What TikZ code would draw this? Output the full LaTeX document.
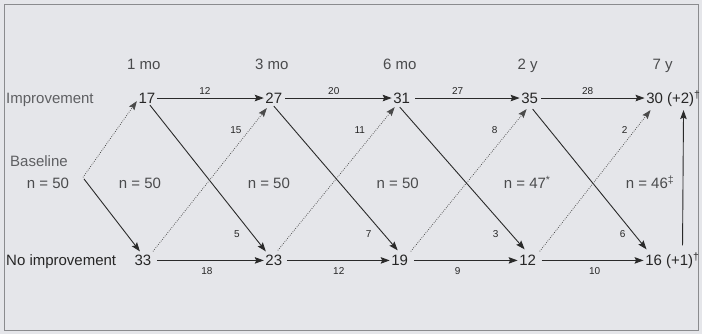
\documentclass[tikz,border=0pt]{standalone}
\usepackage{fontspec}
\setmainfont{Liberation Sans}
\usetikzlibrary{arrows.meta,calc}
\definecolor{bgc}{HTML}{E5E6EA}
\definecolor{framec}{HTML}{8A8B8E}
\definecolor{numc}{HTML}{262626}
\definecolor{lblc}{HTML}{5E5F62}
\definecolor{hdrc}{HTML}{4A4B4D}
\definecolor{linec}{HTML}{2A2A2A}
\definecolor{dotc}{HTML}{4A4A4A}
\begin{document}
\begin{tikzpicture}[x=1pt,y=-1pt,
  every node/.style={font=\fontsize{15}{18}\selectfont, text=numc},
  num/.style={inner sep=1.5pt, text height=10.7pt, text depth=0pt},
  lbl/.style={anchor=base west, inner sep=0pt, text=lblc},
  hdr/.style={anchor=base, inner sep=0pt, text=hdrc},
  nn/.style={anchor=base, inner sep=0pt, text=hdrc},
  elab/.style={anchor=base, inner sep=0pt, font=\fontsize{10}{12}\selectfont, text=numc},
  arr/.style={-{Stealth[length=9pt,width=6.5pt,inset=1.5pt]}, line width=0.9pt, draw=linec},
  dots/.style={-{Stealth[length=9pt,width=6.5pt,inset=1.5pt]}, line width=0.75pt, draw=dotc, dash pattern=on 0.75pt off 1.4pt}
]
\path[fill=bgc] (0,0) rectangle (702,334);
\draw[framec, line width=1pt] (4.5,5) rectangle (699,331);

% headers
\node[hdr] (h1) at (144,70) {1 mo};
\node[hdr] (h2) at (272,70) {3 mo};
\node[hdr] (h3) at (400,70) {6 mo};
\node[hdr] (h4) at (528,70) {2 y};
\node[hdr] (h5) at (663,70) {7 y};

% row labels
\node[lbl] (limp) at (6,103.5) {Improvement};
\node[lbl] (lbase) at (10,166.5) {Baseline};
\node[lbl, text=numc] (lno) at (6,266) {No improvement};

% n labels
\node[nn] (nb) at (48,189) {n = 50};
\node[nn] (nm1) at (140,189) {n = 50};
\node[nn] (nm2) at (269,189) {n = 50};
\node[nn] (nm3) at (398,189) {n = 50};
\node[nn, anchor=base west] (nm4) at (504,189) {n = 47\textsuperscript{*}};
\node[nn, anchor=base west] (nm5) at (626,189) {n = 46\textsuperscript{‡}};

% top row
\node[num] (n17) at (147,98.1) {17};
\node[num] (n27) at (274,98.1) {27};
\node[num] (n31) at (402,98.1) {31};
\node[num] (n35) at (530,98.1) {35};
\node[num, anchor=west] (n30) at (645,98.1) {30 (+2)\textsuperscript{†}};
% bottom row
\node[num] (n33) at (143,260.6) {33};
\node[num] (n23) at (274,260.6) {23};
\node[num] (n19) at (400,260.6) {19};
\node[num] (n12) at (528,260.6) {12};
\node[num, anchor=west] (n16) at (644,260.6) {16 (+1)\textsuperscript{†}};

\coordinate (bv) at (83,177.5);

% horizontal arrows
\draw[arr] (n17.east) -- (n27.west);
\draw[arr, shorten <=1.5pt] (n27.east) -- (n31.west);
\draw[arr, shorten <=3.5pt] (n31.east) -- (n35.west);
\draw[arr, shorten <=1.5pt] (n35.east) -- (n30.west);
\draw[arr, shorten <=4pt] (n33.east) -- (n23.west);
\draw[arr, shorten <=3pt] (n23.east) -- (n19.west);
\draw[arr, shorten <=4pt] (n19.east) -- (n12.west);
\draw[arr, shorten <=4pt] (n12.east) -- (n16.west);

% baseline arrows
\draw[dots] (bv) -- ($(n17.south west)+(0,-4)$);
\draw[arr] ($(bv)+(1,1.5)$) -- ($(n33.north)+(-3,-2)$);

% diagonal solid (down)
\draw[arr] ($(n17.south)+(3,0)$) -- ($(n23.north)+(-8,-2)$);
\draw[arr] ($(n27.south)+(0,1)$) -- ($(n19.north)+(-2,-3)$);
\draw[arr] ($(n31.south)+(-2,2)$) -- ($(n12.north)+(-3,-4)$);
\draw[arr] ($(n35.south)+(3,4)$) -- ($(n16.north west)+(3,-4)$);

% diagonal dotted (up)
\draw[dots] ($(n33.north east)+(0,-2)$) -- ($(n27.south)+(-7,3)$);
\draw[dots] ($(n23.north)+(4,-3)$) -- ($(n31.south)+(-7,2)$);
\draw[dots] ($(n19.north east)+(1,-2)$) -- ($(n35.south)+(-3,4)$);
\draw[dots] ($(n12.north east)+(2,-2)$) -- ($(n30.south west)+(6,5)$);

% vertical
\draw[arr] ($(n16.north west)+(39,-8)$) -- ($(n30.south west)+(39,5)$);

% edge labels
\node[elab] (e1) at (205,95) {12};
\node[elab] (e2) at (334,95) {20};
\node[elab] (e3) at (458,95) {27};
\node[elab] (e4) at (588,95) {28};
\node[elab] (e5) at (207,275) {18};
\node[elab] (e6) at (339,275) {12};
\node[elab] (e7) at (458,275) {9};
\node[elab] (e8) at (595,275) {10};
\node[elab] (e9) at (236,134) {15};
\node[elab] (e10) at (360,134) {11};
\node[elab] (e11) at (495,134) {8};
\node[elab] (e12) at (625,134) {2};
\node[elab] (e13) at (237,238) {5};
\node[elab] (e14) at (369,238) {7};
\node[elab] (e15) at (496,238) {3};
\node[elab] (e16) at (623,238) {6};
\end{tikzpicture}
\end{document}
